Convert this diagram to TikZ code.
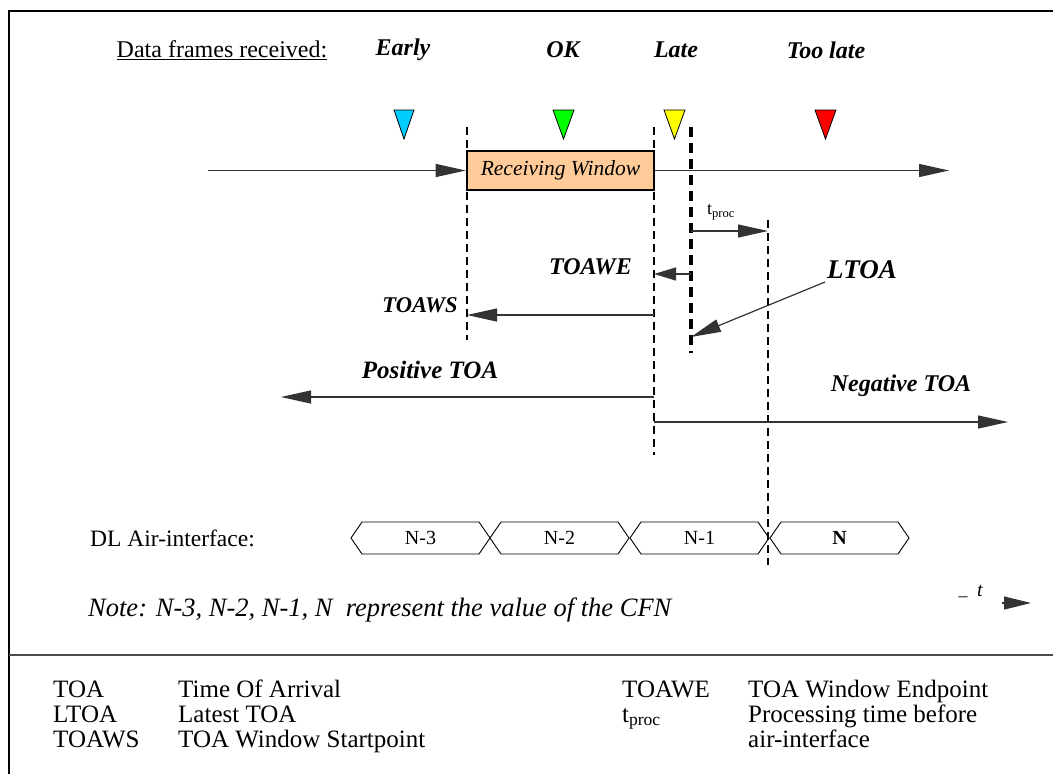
\documentclass[tikz,border=0pt]{standalone}
\usepackage{fontspec}
\setmainfont{Liberation Serif}
\usetikzlibrary{arrows.meta}
\definecolor{peach}{HTML}{FFCC99}
\definecolor{lncol}{HTML}{333333}
\definecolor{cyanT}{HTML}{00CCFF}
\definecolor{greenT}{HTML}{00FF00}
\definecolor{yellowT}{HTML}{FFFF00}
\definecolor{redT}{HTML}{FF0000}
\begin{document}
\begin{tikzpicture}[x=1pt,y=-1pt,
  arr/.style={draw=lncol,line width=1.2pt,-{Triangle[length=30pt,width=13pt]}},
  dash1/.style={draw=black,line width=1.3pt,dash pattern=on 8pt off 5pt},
  dash2/.style={draw=black,line width=3.2pt,dash pattern=on 10pt off 6pt},
  marker/.style={draw=black,line width=0.8pt},
  hexa/.style={draw=black,line width=0.9pt},
  lbl/.style={inner sep=0pt,font=\fontsize{24}{28}\selectfont\bfseries\itshape},
  txt/.style={inner sep=0pt,font=\fontsize{23.5}{28}\selectfont},
  leg/.style={inner sep=0pt,anchor=base west,font=\fontsize{25}{28}\selectfont},
  seg/.style={inner sep=0pt,font=\fontsize{20}{24}\selectfont}]
\useasboundingbox (0,0) rectangle (1053,774);
\fill[white] (0,0) rectangle (1053,774);
% frame
\draw[line width=2pt,black] (9,774) -- (9,11) -- (1053,11);
\draw[line width=1.2pt,black!70] (9,655) -- (1053,655);

% header texts
\node[txt,font=\fontsize{24}{28}\selectfont] (hdr) at (222,50) {\underline{Data frames received:}};
\node[lbl] (early) at (403,50) {Early};
\node[lbl] (ok) at (563,50) {OK};
\node[lbl] (late) at (676,50) {Late};
\node[lbl] (toolate) at (826,50) {Too late};

% markers
\draw[marker,fill=cyanT] (394,110) -- (414,110) -- (404,139) -- cycle;
\draw[marker,fill=greenT] (553,110) -- (574,110) -- (563.5,139) -- cycle;
\draw[marker,fill=yellowT] (664,110) -- (685,110) -- (674.5,139) -- cycle;
\draw[marker,fill=redT] (815,110) -- (836,110) -- (825.5,139) -- cycle;

% dashed verticals
\coordinate (dAt) at (467,127); \coordinate (dAb) at (467,340);
\coordinate (dBt) at (654,127); \coordinate (dBb) at (654,455);
\coordinate (dCt) at (691,127); \coordinate (dCb) at (691,353);
\coordinate (dDt) at (768,220); \coordinate (dDb) at (768,565);
\draw[dash1] (dAt) -- (dAb);
\draw[dash1] (dBt) -- (dBb);
\draw[dash2] (dCt) -- (dCb);
\draw[dash1] (dDt) -- (dDb);

% receiving window and timeline
\node[draw=black,line width=2.6pt,fill=peach,minimum width=187pt,minimum height=39pt,inner sep=0pt,
  font=\fontsize{21.5}{26}\selectfont\itshape] (rw) at (560.5,170.5) {Receiving Window};
\coordinate (tlstart) at (208,170.5);
\coordinate (tlend) at (949,170.5);
\draw[arr] (tlstart) -- (rw.west);
\draw[arr] (rw.east) -- (tlend);

% t_proc
\coordinate (tp1) at (691,231); \coordinate (tp2) at (768,231);
\draw[arr] (tp1) -- (tp2);
\node[inner sep=0pt,font=\fontsize{18}{22}\selectfont] (tproc) at (721,212) {t\textsubscript{proc}};

% TOAWE
\coordinate (we1) at (691,274); \coordinate (we2) at (654,274);
\draw[arr,-{Triangle[length=22pt,width=13pt]}] (we1) -- (we2);
\node[lbl,anchor=east] (toawe) at (632,267) {TOAWE};

% TOAWS
\coordinate (ws1) at (654,315); \coordinate (ws2) at (467,315);
\draw[arr] (ws1) -- (ws2);
\node[lbl,font=\fontsize{22.5}{27}\selectfont\bfseries\itshape] (toaws) at (420,305) {TOAWS};

% LTOA
\coordinate (lt1) at (825,282); \coordinate (lt2) at (691,337);
\draw[arr] (lt1) -- (lt2);
\node[lbl,font=\fontsize{27}{31}\selectfont\bfseries\itshape] (ltoa) at (862,270) {LTOA};

% Positive / Negative TOA
\coordinate (p1) at (654,397); \coordinate (p2) at (281,397);
\draw[arr] (p1) -- (p2);
\node[lbl,font=\fontsize{25}{29}\selectfont\bfseries\itshape] (pos) at (430,370) {Positive TOA};
\coordinate (n1) at (654,422); \coordinate (n2) at (1008,422);
\draw[arr] (n1) -- (n2);
\node[lbl] (neg) at (901,386) {Negative TOA};

% DL air interface
\node[txt,anchor=west] (dl) at (90,538) {DL Air-interface:};
\foreach \L/\t/\nm in {351/N-3/s3,490/N-2/s2,630/N-1/s1,770/\textbf{N}/s0}{
  \draw[hexa] (\L,538) -- (\L+11,522) -- (\L+128,522) -- (\L+139,538) -- (\L+128,554) -- (\L+11,554) -- cycle;
  \node[seg] (\nm) at (\L+69.5,538) {\t};
}

% note and time arrow
\node[inner sep=0pt,anchor=west,font=\fontsize{26.5}{30}\selectfont\itshape] (note) at (88,610)
  {Note: N-3, N-2, N-1, N\ \ represent the value of the CFN};
\node[inner sep=0pt,font=\fontsize{18}{22}\selectfont] (tdash) at (963,599) {–};
\node[inner sep=0pt,font=\fontsize{20}{24}\selectfont\itshape] (tsym) at (980,591) {t};
\coordinate (ta1) at (1002,603); \coordinate (ta2) at (1031,603);
\draw[arr,-{Triangle[length=27pt,width=13pt]}] (ta1) -- (ta2);

% legend
\node[leg] (k1) at (53,697) {TOA};
\node[leg] (v1) at (178,697) {Time Of Arrival};
\node[leg] (k2) at (53,722) {LTOA};
\node[leg] (v2) at (178,722) {Latest TOA};
\node[leg] (k3) at (53,747) {TOAWS};
\node[leg] (v3) at (178,747) {TOA Window Startpoint};
\node[leg] (k4) at (622,697) {TOAWE};
\node[leg] (v4) at (748,697) {TOA Window Endpoint};
\node[leg] (k5) at (622,722) {t\textsubscript{proc}};
\node[leg] (v5) at (748,722) {Processing time before};
\node[leg] (v6) at (748,747) {air-interface};
\end{tikzpicture}
\end{document}
